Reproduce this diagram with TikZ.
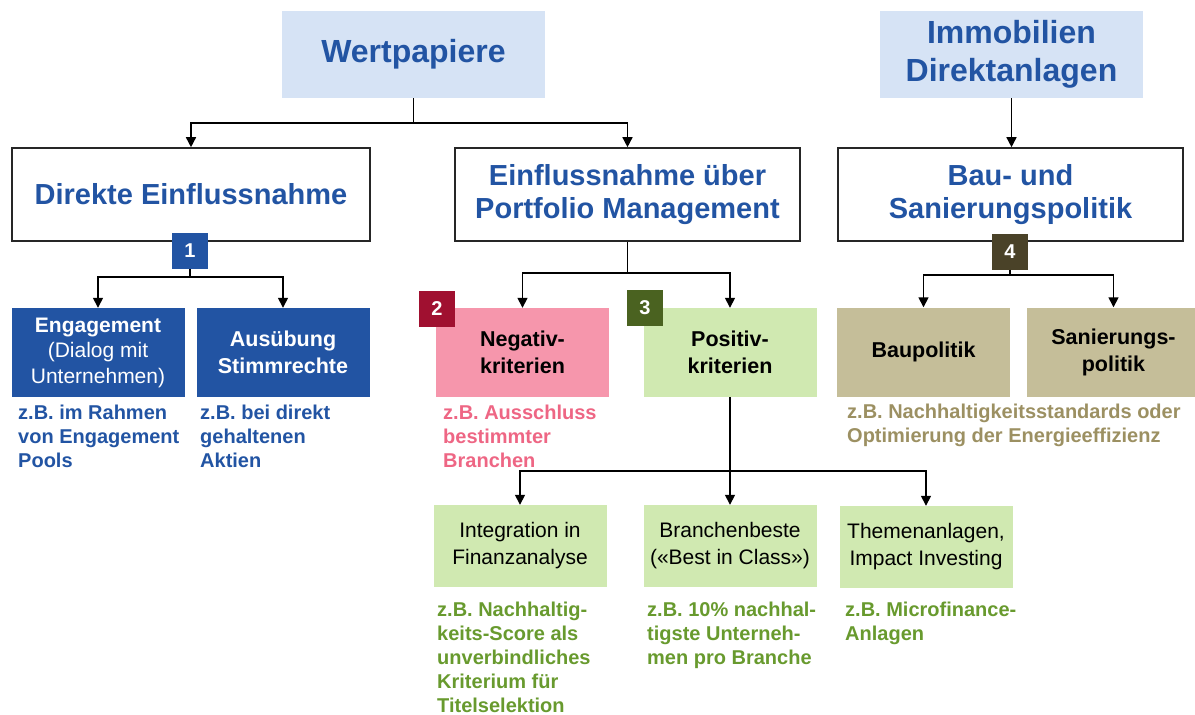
\documentclass[tikz,border=0pt]{standalone}
\usepackage{fontspec}
\setmainfont{Liberation Sans}
\usetikzlibrary{arrows.meta}
\definecolor{hblue}{RGB}{34,84,163}
\definecolor{lblue}{RGB}{214,227,245}
\definecolor{pinkfill}{RGB}{246,150,172}
\definecolor{pinktext}{RGB}{238,102,132}
\definecolor{badgered}{RGB}{160,16,48}
\definecolor{greenfill}{RGB}{208,233,177}
\definecolor{badgegreen}{RGB}{74,98,32}
\definecolor{greentext}{RGB}{104,154,46}
\definecolor{tanfill}{RGB}{197,190,153}
\definecolor{tantext}{RGB}{156,144,98}
\definecolor{badgebrown}{RGB}{74,66,40}
\begin{document}
\begin{tikzpicture}[x=1pt,y=-1pt,
  sz/.style 2 args={minimum width=#1, minimum height=#2},
  topbox/.style={fill=lblue, text=hblue, font=\fontsize{32}{38}\selectfont\bfseries, align=center, inner sep=0pt},
  headbox/.style={draw=black!85, line width=1.6pt, fill=white, text=hblue, font=\fontsize{29}{33}\selectfont\bfseries, align=center, inner sep=0pt},
  bluebox/.style={fill=hblue, text=white, font=\fontsize{21}{26}\selectfont, align=center, inner sep=0pt, sz={173pt}{89pt}},
  critbox/.style={text=black, font=\fontsize{21.5}{27}\selectfont\bfseries, align=center, inner sep=0pt, sz={173pt}{89pt}},
  subbox/.style={fill=greenfill, text=black, font=\fontsize{21}{27}\selectfont, align=center, inner sep=0pt, sz={173pt}{82pt}},
  badge/.style={text=white, font=\fontsize{20}{24}\selectfont\bfseries, inner sep=0pt, sz={36pt}{36pt}},
  note/.style={font=\fontsize{20}{24}\selectfont\bfseries, align=left, inner sep=0pt, anchor=base west},
  ln/.style={line width=1.5pt, draw=black},
  arr/.style={line width=1.5pt, draw=black, -{Triangle[length=10pt,width=10pt]}}
]
\useasboundingbox (0,0) rectangle (1195,715);

% top level
\node[topbox, sz={263pt}{87pt}] (wp) at (413.5,54.5) {Wertpapiere};
\node[topbox, sz={263pt}{87pt}] (imm) at (1011.5,54.5) {Immobilien\\Direktanlagen};

% second level
\node[headbox, sz={358pt}{93pt}] (de) at (191,194.5) {Direkte Einflussnahme};
\node[headbox, sz={345pt}{93pt}] (pm) at (627.5,194.5) {Einflussnahme über\\Portfolio Management};
\node[headbox, sz={345pt}{93pt}] (bau) at (1010.5,194.5) {Bau- und\\Sanierungspolitik};

% connectors top
\coordinate (j1) at (413.5,123);
\draw[ln] (wp.south) -- (j1);
\draw[arr] (j1) -| (de.north);
\draw[arr] (j1) -| (pm.north);
\draw[arr] (imm.south) -- (imm.south |- bau.north);

% badges
\node[badge, fill=hblue] (b1) at (190,251) {1};
\node[badge, fill=badgebrown] (b4) at (1010,251.5) {4};

% level 3 left
\node[bluebox] (eng) at (98,352.5) {\textbf{Engagement}\\[-0.5pt](Dialog mit\\[-0.5pt]Unternehmen)};
\node[bluebox, font=\fontsize{21.5}{27}\selectfont\bfseries] (aus) at (283,352.5) {Ausübung\\Stimmrechte};
\coordinate (j2) at (190,277);
\draw[ln] (b1.south) -- (j2);
\draw[arr] (j2) -| (eng.north);
\draw[arr] (j2) -| (aus.north);

% level 3 middle
\node[critbox, fill=pinkfill] (neg) at (522.5,352.5) {Negativ-\\kriterien};
\node[critbox, fill=greenfill] (pos) at (730,352.5) {Positiv-\\kriterien};
\coordinate (j3) at (627.5,273);
\draw[ln] (pm.south) -- (j3);
\draw[arr] (j3) -| (neg.north);
\draw[arr] (j3) -| (pos.north);
\node[badge, fill=badgered] (b2) at (437,308.5) {2};
\node[badge, fill=badgegreen] (b3) at (645,308) {3};

% level 3 right
\node[critbox, fill=tanfill] (baup) at (923.5,352) {Baupolitik};
\node[critbox, fill=tanfill] (san) at (1113.5,352) {Sanierungs-\\politik};
\coordinate (j4) at (1010,275);
\draw[ln] (b4.south) -- (j4);
\draw[arr] (j4) -| (baup.north);
\draw[arr] (j4) -| (san.north);

% level 4
\node[subbox] (int) at (520,546) {Integration in\\Finanzanalyse};
\node[subbox] (bib) at (730,546) {Branchenbeste\\(«Best in Class»)};
\node[subbox] (thm) at (926,547) {Themenanlagen,\\Impact Investing};
\coordinate (j5) at (730,471);
\draw[ln] (pos.south) -- (j5);
\draw[arr] (j5) -| (int.north);
\draw[arr] (j5) -| (thm.north);
\draw[arr] (j5) -- (bib.north);

% notes (anchor = baseline of last line)
\node[note, text=hblue] (n1) at (18,467) {z.B. im Rahmen\\von Engagement\\Pools};
\node[note, text=hblue] (n2) at (200,467) {z.B. bei direkt\\gehaltenen\\Aktien};
\node[note, text=pinktext] (n3) at (443,467) {z.B. Ausschluss\\bestimmter\\Branchen};
\node[note, text=tantext] (n4) at (847,442) {z.B. Nachhaltigkeitsstandards oder\\Optimierung der Energieeffizienz};
\node[note, text=greentext] (n5) at (437,712) {z.B. Nachhaltig-\\keits-Score als\\unverbindliches\\Kriterium für\\Titelselektion};
\node[note, text=greentext] (n6) at (647,664) {z.B. 10\% nachhal-\\tigste Unterneh-\\men pro Branche};
\node[note, text=greentext] (n7) at (845,640) {z.B. Microfinance-\\Anlagen};
\end{tikzpicture}
\end{document}
